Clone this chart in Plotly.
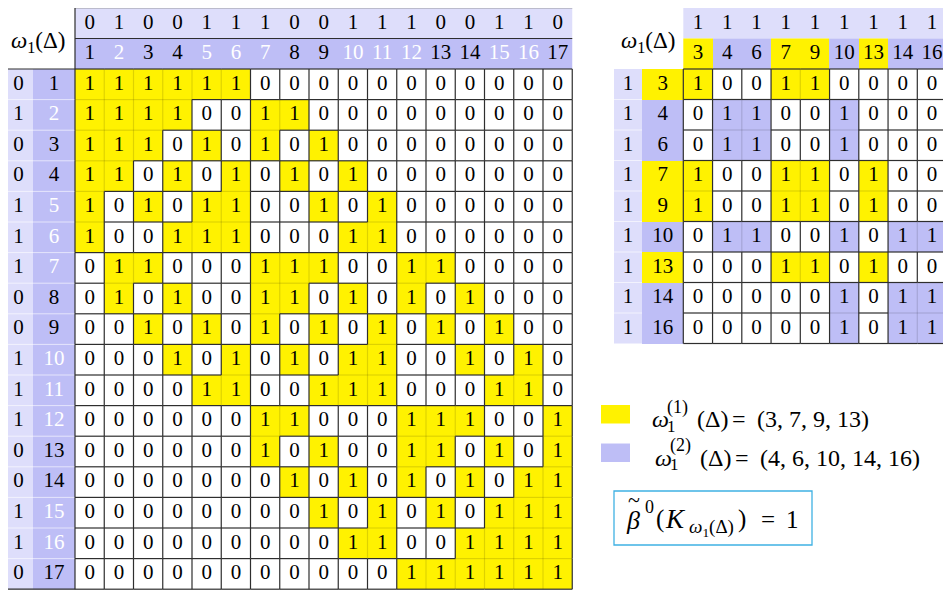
import plotly.graph_objects as go

# nodes of the complex and their omega labels
NODES = list(range(1, 18))
OMEGA = [0, 1, 0, 0, 1, 1, 1, 0, 0, 1, 1, 1, 0, 0, 1, 1, 0]

# adjacency matrix (big table)
ADJ = [
    [1, 1, 1, 1, 1, 1, 0, 0, 0, 0, 0, 0, 0, 0, 0, 0, 0],
    [1, 1, 1, 1, 0, 0, 1, 1, 0, 0, 0, 0, 0, 0, 0, 0, 0],
    [1, 1, 1, 0, 1, 0, 1, 0, 1, 0, 0, 0, 0, 0, 0, 0, 0],
    [1, 1, 0, 1, 0, 1, 0, 1, 0, 1, 0, 0, 0, 0, 0, 0, 0],
    [1, 0, 1, 0, 1, 1, 0, 0, 1, 0, 1, 0, 0, 0, 0, 0, 0],
    [1, 0, 0, 1, 1, 1, 0, 0, 0, 1, 1, 0, 0, 0, 0, 0, 0],
    [0, 1, 1, 0, 0, 0, 1, 1, 1, 0, 0, 1, 1, 0, 0, 0, 0],
    [0, 1, 0, 1, 0, 0, 1, 1, 0, 1, 0, 1, 0, 1, 0, 0, 0],
    [0, 0, 1, 0, 1, 0, 1, 0, 1, 0, 1, 0, 1, 0, 1, 0, 0],
    [0, 0, 0, 1, 0, 1, 0, 1, 0, 1, 1, 0, 0, 1, 0, 1, 0],
    [0, 0, 0, 0, 1, 1, 0, 0, 1, 1, 1, 0, 0, 0, 1, 1, 0],
    [0, 0, 0, 0, 0, 0, 1, 1, 0, 0, 0, 1, 1, 1, 0, 0, 1],
    [0, 0, 0, 0, 0, 0, 1, 0, 1, 0, 0, 1, 1, 0, 1, 0, 1],
    [0, 0, 0, 0, 0, 0, 0, 1, 0, 1, 0, 1, 0, 1, 0, 1, 1],
    [0, 0, 0, 0, 0, 0, 0, 0, 1, 0, 1, 0, 1, 0, 1, 1, 1],
    [0, 0, 0, 0, 0, 0, 0, 0, 0, 1, 1, 0, 0, 1, 1, 1, 1],
    [0, 0, 0, 0, 0, 0, 0, 0, 0, 0, 0, 1, 1, 1, 1, 1, 1],
]

# sub-table (right)
SUB_NODES = [3, 4, 6, 7, 9, 10, 13, 14, 16]
SUB_OMEGA = [1, 1, 1, 1, 1, 1, 1, 1, 1]
GROUP_1 = [3, 7, 9, 13]
GROUP_2 = [4, 6, 10, 14, 16]
BRACE_COLS = (7, 16)
BETA0 = 1

SERIF = "Liberation Serif"
YELLOW = "#fff200"
LAV_DARK = "#bebef6"
LAV_LIGHT = "#dedefb"
GRID = "#2e2e2e"
FAINT = "rgba(0,0,0,0.13)"
FS = 21
PAGE_OFFSET = 8  # default body margin of the html page

fig = go.Figure()


def add_cells(x0, y0, cw, rh, z, colors):
    n, m = len(z), len(z[0])
    k = len(colors)
    scale = []
    for i, c in enumerate(colors):
        scale += [[i / k, c], [(i + 1) / k, c]]
    fig.add_trace(go.Heatmap(
        x=[x0 + j * cw for j in range(m + 1)],
        y=[y0 + i * rh for i in range(n + 1)],
        z=z, zmin=-0.5, zmax=k - 0.5, colorscale=scale,
        showscale=False, hoverinfo='skip'))


def add_text(xs, ys, texts, colors='black', size=FS):
    fig.add_trace(go.Scatter(
        x=xs, y=ys, mode='text', text=texts, textposition='middle center',
        textfont=dict(family=SERIF, size=size, color=colors), hoverinfo='skip'))


def add_lines(segs, color, width):
    xs, ys = [], []
    for (xa, ya, xb, yb) in segs:
        xs += [xa, xb, None]
        ys += [ya, yb, None]
    fig.add_trace(go.Scatter(x=xs, y=ys, mode='lines', hoverinfo='skip',
                             line=dict(color=color, width=width)))


def grid(cells, x0, y0, cw, rh):
    n, m = len(cells), len(cells[0])
    dark, faint = [], []
    for i in range(n):
        for j in range(m + 1):
            a = cells[i][j - 1] if j > 0 else None
            b = cells[i][j] if j < m else None
            seg = (x0 + j * cw, y0 + i * rh, x0 + j * cw, y0 + (i + 1) * rh)
            (faint if a and b and a == b else dark).append(seg)
    for i in range(n + 1):
        for j in range(m):
            a = cells[i - 1][j] if i > 0 else None
            b = cells[i][j] if i < n else None
            seg = (x0 + j * cw, y0 + i * rh, x0 + (j + 1) * cw, y0 + i * rh)
            (faint if a and b and a == b else dark).append(seg)
    add_lines(faint, FAINT, 1.2)
    add_lines(dark, GRID, 1.2)


def band(x0, y0, x1, y1, color):
    fig.add_shape(type='rect', x0=x0, y0=y0, x1=x1, y1=y1, layer='below',
                  fillcolor=color, line_width=0)


def note(x, y, text, size, anchor='left'):
    fig.add_annotation(x=x, y=y, text=text, showarrow=False, xanchor=anchor,
                       yanchor='middle', font=dict(family=SERIF, size=size, color='black'))


# ---------------- big table ----------------
BX0, BY0, CW, RH = 75, 69, 29.25, 30.6
HY0 = 8
HR = (BY0 - HY0) / 2
LC0, LC1 = 4, 33
n = len(NODES)
bx1 = BX0 + n * CW
by1 = BY0 + n * RH

band(BX0, HY0, bx1, HY0 + HR, LAV_LIGHT)
band(BX0, HY0 + HR, bx1, BY0, LAV_DARK)
band(LC0, BY0, LC1, by1, LAV_LIGHT)
band(LC1, BY0, BX0, by1, LAV_DARK)

add_cells(BX0, BY0, CW, RH, ADJ, ['white', YELLOW])

add_lines([(LC0, BY0 + i * RH, BX0, BY0 + i * RH) for i in range(1, n)], 'rgba(255,255,255,0.6)', 1)
add_lines([(BX0, HY0, bx1, HY0)], '#888888', 0.8)
add_lines([(BX0, HY0 + HR, bx1, HY0 + HR), (BX0, HY0, BX0, BY0),
           (LC0, BY0, BX0, BY0), (LC0, by1, BX0, by1)], GRID, 1.2)
add_lines([(LC0, BY0, LC0, by1)], '#aaaaaa', 0.8)
grid(ADJ, BX0, BY0, CW, RH)

cx = [BX0 + (j + 0.5) * CW for j in range(n)]
cy = [BY0 + (i + 0.5) * RH for i in range(n)]
add_text([cx[j] for i in range(n) for j in range(n)],
         [cy[i] for i in range(n) for j in range(n)],
         [str(ADJ[i][j]) for i in range(n) for j in range(n)])
num_colors = ['white' if w else 'black' for w in OMEGA]
add_text(cx, [HY0 + HR / 2] * n, [str(w) for w in OMEGA])
add_text(cx, [HY0 + 1.5 * HR] * n, [str(k) for k in NODES], num_colors)
add_text([(LC0 + LC1) / 2] * n, cy, [str(w) for w in OMEGA])
add_text([(LC1 + BX0) / 2] * n, cy, [str(k) for k in NODES], num_colors)
note(38, HY0 + HR + 3, "<i>ω</i><sub>1</sub>(Δ)", 23, 'center')

# brace over columns
bl = BX0 + (BRACE_COLS[0] - 0.5) * CW - 5
br = BX0 + (BRACE_COLS[1] - 0.5) * CW + 6
bm = (bl + br) / 2
fig.add_shape(type='path', line=dict(color='#555555', width=1),
              path=(f"M {bl},5.5 Q {bl},2.5 {bl + 8},2.5 L {bm - 7},2.5 "
                    f"Q {bm},2.5 {bm},0 Q {bm},2.5 {bm + 7},2.5 "
                    f"L {br - 8},2.5 Q {br},2.5 {br},5.5"))

# ---------------- sub table ----------------
RX0, RY0, RRH = 683.3, 69, 30.5
RLC0, RLC1 = 614, 642
m = len(SUB_NODES)
group_of = {k: 1 for k in GROUP_1}
group_of.update({k: 2 for k in GROUP_2})
groups = [group_of[k] for k in SUB_NODES]
sub_cells = [[ADJ[a - 1][b - 1] * group_of[a] for b in SUB_NODES] for a in SUB_NODES]
palette = ['white', YELLOW, LAV_DARK]
rx1 = RX0 + m * CW
ry1 = RY0 + m * RRH

band(RX0, HY0, rx1, HY0 + HR, LAV_LIGHT)
band(RLC0, RY0, RLC1, ry1, LAV_LIGHT)
add_cells(RX0, HY0 + HR, CW, BY0 - HY0 - HR, [groups], palette)
add_cells(RLC1, RY0, RX0 - RLC1, RRH, [[g] for g in groups], palette)
add_cells(RX0, RY0, CW, RRH, sub_cells, palette)
add_lines([(RLC0, RY0 + i * RRH, RLC1, RY0 + i * RRH) for i in range(1, m)], 'rgba(255,255,255,0.6)', 1)
grid(sub_cells, RX0, RY0, CW, RRH)

rcx = [RX0 + (j + 0.5) * CW for j in range(m)]
rcy = [RY0 + (i + 0.5) * RRH for i in range(m)]
add_text([rcx[j] for i in range(m) for j in range(m)],
         [rcy[i] for i in range(m) for j in range(m)],
         [str(1 if sub_cells[i][j] else 0) for i in range(m) for j in range(m)])
add_text(rcx, [HY0 + HR / 2] * m, [str(w) for w in SUB_OMEGA])
add_text(rcx, [HY0 + 1.5 * HR] * m, [str(k) for k in SUB_NODES])
add_text([(RLC0 + RLC1) / 2] * m, rcy, [str(w) for w in SUB_OMEGA])
add_text([(RLC1 + RX0) / 2] * m, rcy, [str(k) for k in SUB_NODES])
note(648, HY0 + HR + 3, "<i>ω</i><sub>1</sub>(Δ)", 23, 'center')

# ---------------- legend ----------------
LX, LY, LDY = 601, 414, 38.5
for idx, (grp, color) in enumerate([(GROUP_1, YELLOW), (GROUP_2, LAV_DARK)]):
    yc = LY + idx * LDY
    dx = 3 * idx
    band(LX, yc - 9, LX + 29, yc + 9.5, color)
    note(650 + dx, yc + 5, "<i>ω</i>", 24)
    note(665 + dx, yc - 7, f"({idx + 1})", 18)
    note(665 + dx, yc + 12, "1", 17)
    note(695 + dx, yc + 5, "(Δ)", 24)
    note(739 + dx, yc + 5, "=", 24, 'center')
    note(755 + dx, yc + 5, "(" + ", ".join(str(k) for k in grp) + ")", 24)

# betti number box
fig.add_shape(type='rect', x0=614, y0=491, x1=812, y1=545,
              line=dict(color='#3fb1e3', width=1.3), fillcolor='rgba(0,0,0,0)')
note(624, 520, "<i>β</i>", 26)
note(634, 499, "~", 22, 'center')
note(643, 507, "0", 18)
note(654, 519, "(", 25)
note(663, 519, "<i>K</i>", 27)
note(687, 528, "<i>ω</i><sub>1</sub>(Δ)", 19)
note(736, 519, ")", 25)
note(767.5, 519, "=", 25, 'center')
note(792, 519, str(BETA0), 25, 'center')

# the page adds a body margin, so the axes are shifted by it
fig.update_layout(
    width=951, height=594, margin=dict(l=0, r=0, t=0, b=0),
    paper_bgcolor='white', plot_bgcolor='white', showlegend=False,
    xaxis=dict(range=[PAGE_OFFSET, 951 + PAGE_OFFSET], visible=False, fixedrange=True),
    yaxis=dict(range=[594 + PAGE_OFFSET, PAGE_OFFSET], visible=False, fixedrange=True),
)
fig.write_html("out.html", config={'displayModeBar': False})
